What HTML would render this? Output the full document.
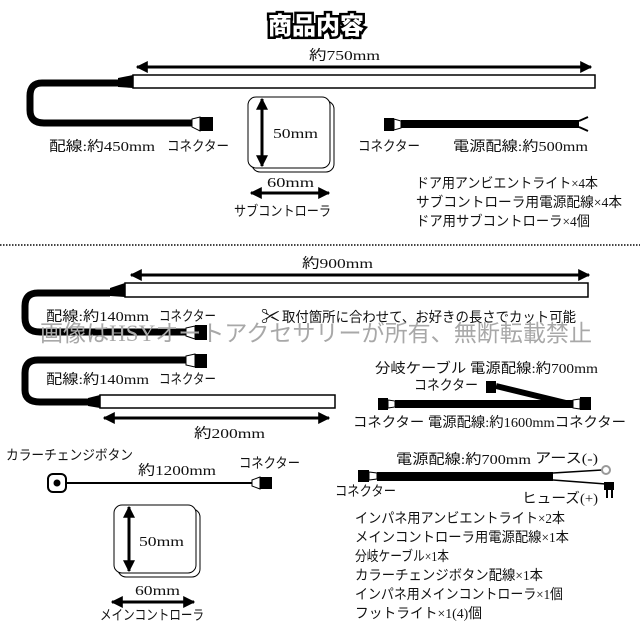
<!DOCTYPE html>
<html><head><meta charset="utf-8"><style>
body{margin:0;background:#fff}
svg{display:block}
text{font-family:"Liberation Serif","Noto Sans CJK JP",serif;font-size:14px;fill:#111}
</style></head><body>
<svg width="640" height="640" viewBox="0 0 640 640" xmlns="http://www.w3.org/2000/svg">
<defs>
<marker id="a" viewBox="0 0 10 10" refX="9" refY="5" markerWidth="4" markerHeight="4" orient="auto-start-reverse"><path d="M0,0L10,5L0,10z" fill="#000"/></marker>
</defs>
<text x="316" y="34" text-anchor="middle" style="font-family:'Noto Sans CJK JP',sans-serif;font-size:24px;font-weight:900;fill:#fff;stroke:#000;stroke-width:5;paint-order:stroke">商品内容</text>

<!-- top strip -->
<text x="309" y="60" textLength="71" lengthAdjust="spacingAndGlyphs">約750mm</text>
<line x1="137" y1="67" x2="591" y2="67" stroke="#000" stroke-width="3" marker-start="url(#a)" marker-end="url(#a)"/>
<rect x="133" y="75" width="462" height="13" fill="#fff" stroke="#000" stroke-width="1.5"/>
<path d="M118,78 L133,75 L133,88 L118,87 z" fill="#000"/>
<path d="M118,83 L42,83 Q30,83 30,96 L30,110 Q30,123 44,123 L192,123" fill="none" stroke="#000" stroke-width="7"/>
<path d="M192,119 L200,117 L200,131 L192,127z" fill="#fff" stroke="#000"/>
<rect x="200" y="117" width="13" height="14" fill="#000"/>
<text x="49" y="151" textLength="106" lengthAdjust="spacingAndGlyphs">配線:約450mm</text>
<text x="167" y="151" textLength="62" lengthAdjust="spacingAndGlyphs">コネクター</text>

<!-- sub controller -->
<rect x="252" y="101" width="82" height="71" rx="8" fill="#fff" stroke="#000"/>
<rect x="248" y="97" width="82" height="71" rx="8" fill="#fff" stroke="#000"/>
<line x1="262" y1="99" x2="262" y2="166" stroke="#000" stroke-width="3" marker-start="url(#a)" marker-end="url(#a)"/>
<text x="273" y="138" textLength="45" lengthAdjust="spacingAndGlyphs">50mm</text>
<text x="267" y="187" textLength="47" lengthAdjust="spacingAndGlyphs">60mm</text>
<line x1="251" y1="193" x2="329" y2="193" stroke="#000" stroke-width="3" marker-start="url(#a)" marker-end="url(#a)"/>
<text x="234" y="216" textLength="97" lengthAdjust="spacingAndGlyphs">サブコントローラ</text>

<!-- power cable 500 -->
<rect x="384" y="118" width="10" height="13" fill="#000"/>
<path d="M394,119 L401,121 L401,128 L394,130z" fill="#fff" stroke="#000"/>
<rect x="401" y="120" width="178" height="8" fill="#000"/>
<path d="M579,121 L588,117 M579,127 L588,131" stroke="#000" stroke-width="2"/>
<text x="358" y="151" textLength="62" lengthAdjust="spacingAndGlyphs">コネクター</text>
<text x="453" y="151" textLength="135" lengthAdjust="spacingAndGlyphs">電源配線:約500mm</text>
<text x="416" y="188" textLength="182" lengthAdjust="spacingAndGlyphs">ドア用アンビエントライト×4本</text>
<text x="416" y="207" textLength="206" lengthAdjust="spacingAndGlyphs">サブコントローラ用電源配線×4本</text>
<text x="416" y="226" textLength="174" lengthAdjust="spacingAndGlyphs">ドア用サブコントローラ×4個</text>

<line x1="0" y1="245" x2="640" y2="245" stroke="#444" stroke-width="2" stroke-dasharray="1.5,1.5"/>

<!-- 900 strip -->
<text x="302" y="268" textLength="71" lengthAdjust="spacingAndGlyphs">約900mm</text>
<line x1="131" y1="275" x2="589" y2="275" stroke="#000" stroke-width="3" marker-start="url(#a)" marker-end="url(#a)"/>
<rect x="125" y="283" width="463" height="14" fill="#fff" stroke="#000" stroke-width="1.5"/>
<path d="M110,288 L125,283 L125,297 L110,296z" fill="#000"/>
<path d="M110,293 L38,293 Q25,293 25,306 L25,318 Q25,332 40,332 L187,332" fill="none" stroke="#000" stroke-width="7"/>
<path d="M186,328 L195,326 L195,339 L186,336z" fill="#fff" stroke="#000"/>
<rect x="195" y="325" width="12" height="15" fill="#000"/>
<text x="46" y="321" textLength="103" lengthAdjust="spacingAndGlyphs">配線:約140mm</text>
<text x="159" y="321" textLength="57" lengthAdjust="spacingAndGlyphs">コネクター</text>
<text x="261" y="323" style="font-size:19px">✂</text>
<text x="282" y="322" textLength="294" lengthAdjust="spacingAndGlyphs">取付箇所に合わせて、お好きの長さでカット可能</text>
<text x="40" y="341" textLength="552" lengthAdjust="spacingAndGlyphs" style="font-family:'Liberation Serif','Noto Sans CJK JP',serif;font-size:23px;fill:#a8a8a8">画像はHSYオートアクセサリーが所有、無断転載禁止</text>

<!-- 200 strip -->
<rect x="195" y="354" width="12" height="14" fill="#000"/>
<path d="M186,356 L195,354 L195,367 L186,365z" fill="#fff" stroke="#000"/>
<path d="M186,360 L38,360 Q25,360 25,373 L25,390 Q25,402 40,402 L90,402" fill="none" stroke="#000" stroke-width="7"/>
<path d="M88,398 L100,395 L100,408 L88,406z" fill="#000"/>
<rect x="100" y="395" width="235" height="13" fill="#fff" stroke="#000" stroke-width="1.5"/>
<text x="46" y="384" textLength="103" lengthAdjust="spacingAndGlyphs">配線:約140mm</text>
<text x="159" y="384" textLength="57" lengthAdjust="spacingAndGlyphs">コネクター</text>
<line x1="104" y1="418" x2="329" y2="418" stroke="#000" stroke-width="3" marker-start="url(#a)" marker-end="url(#a)"/>
<text x="194" y="438" textLength="71" lengthAdjust="spacingAndGlyphs">約200mm</text>

<!-- branch cable -->
<text x="375" y="373" textLength="223" lengthAdjust="spacingAndGlyphs">分岐ケーブル 電源配線:約700mm</text>
<text x="414" y="390" textLength="64" lengthAdjust="spacingAndGlyphs">コネクター</text>
<rect x="486" y="381" width="10" height="12" fill="#000"/>
<path d="M496,386 L570,404" stroke="#000" stroke-width="6"/>
<rect x="378" y="398" width="10" height="12" fill="#000"/>
<path d="M388,400 L395,401 L395,407 L388,408z" fill="#fff" stroke="#000"/>
<rect x="395" y="400" width="178" height="8" fill="#000"/>
<path d="M573,400 L580,399 L580,409 L573,408z" fill="#fff" stroke="#000"/>
<rect x="580" y="397" width="11" height="13" fill="#000"/>
<text x="353" y="427" textLength="273" lengthAdjust="spacingAndGlyphs">コネクター 電源配線:約1600mmコネクター</text>

<!-- color change button -->
<text x="6" y="460" textLength="127" lengthAdjust="spacingAndGlyphs">カラーチェンジボタン</text>
<text x="138" y="475" textLength="78" lengthAdjust="spacingAndGlyphs">約1200mm</text>
<text x="239" y="468" textLength="61" lengthAdjust="spacingAndGlyphs">コネクター</text>
<rect x="48" y="474" width="18" height="18" rx="5" fill="#fff" stroke="#000" stroke-width="2"/>
<circle cx="57" cy="483" r="3.5" fill="#000"/>
<line x1="66" y1="483" x2="252" y2="483" stroke="#000" stroke-width="2"/>
<path d="M252,480 L260,477 L260,489 L252,486z" fill="#fff" stroke="#000"/>
<rect x="260" y="477" width="12" height="12" fill="#000"/>

<!-- main controller -->
<rect x="118" y="509" width="82" height="68" rx="8" fill="#fff" stroke="#000"/>
<rect x="114" y="505" width="82" height="68" rx="8" fill="#fff" stroke="#000"/>
<line x1="129" y1="507" x2="129" y2="571" stroke="#000" stroke-width="3" marker-start="url(#a)" marker-end="url(#a)"/>
<text x="139" y="546" textLength="45" lengthAdjust="spacingAndGlyphs">50mm</text>
<text x="135" y="595" textLength="45" lengthAdjust="spacingAndGlyphs">60mm</text>
<line x1="112" y1="602" x2="194" y2="602" stroke="#000" stroke-width="3" marker-start="url(#a)" marker-end="url(#a)"/>
<text x="100" y="620" textLength="104" lengthAdjust="spacingAndGlyphs">メインコントローラ</text>

<!-- main power -->
<text x="396" y="464" textLength="135" lengthAdjust="spacingAndGlyphs">電源配線:約700mm</text>
<text x="535" y="463" textLength="63" lengthAdjust="spacingAndGlyphs">アース(-)</text>
<rect x="358" y="470" width="11" height="12" fill="#000"/>
<path d="M369,472 L377,473 L377,479 L369,480z" fill="#fff" stroke="#000"/>
<rect x="377" y="472" width="176" height="9" fill="#000"/>
<path d="M553,473 L602,470 M553,480 L606,484" stroke="#000" stroke-width="1.5"/>
<circle cx="606" cy="470" r="4" fill="none" stroke="#999" stroke-width="2"/>
<rect x="604" y="482" width="10" height="8" fill="#000"/>
<path d="M607,490 L607,498 M612,490 L612,498" stroke="#000" stroke-width="2"/>
<text x="335" y="496" textLength="61" lengthAdjust="spacingAndGlyphs">コネクター</text>
<text x="522" y="503" textLength="76" lengthAdjust="spacingAndGlyphs">ヒューズ(+)</text>
<text x="355" y="523" textLength="210" lengthAdjust="spacingAndGlyphs">インパネ用アンビエントライト×2本</text>
<text x="355" y="542" textLength="214" lengthAdjust="spacingAndGlyphs">メインコントローラ用電源配線×1本</text>
<text x="355" y="561" textLength="94" lengthAdjust="spacingAndGlyphs">分岐ケーブル×1本</text>
<text x="355" y="580" textLength="188" lengthAdjust="spacingAndGlyphs">カラーチェンジボタン配線×1本</text>
<text x="355" y="599" textLength="208" lengthAdjust="spacingAndGlyphs">インパネ用メインコントローラ×1個</text>
<text x="355" y="618" textLength="127" lengthAdjust="spacingAndGlyphs">フットライト×1(4)個</text>
</svg>
</body></html>
